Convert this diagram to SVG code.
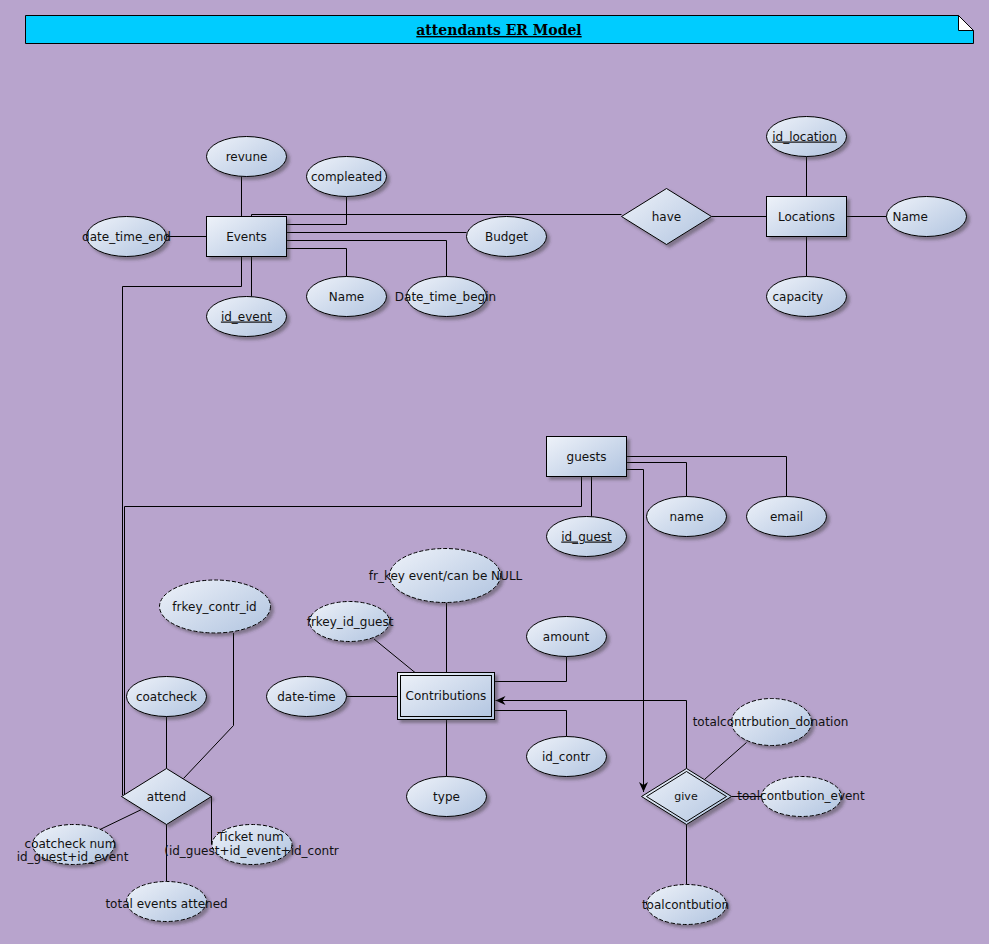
<svg xmlns="http://www.w3.org/2000/svg" width="989" height="944" viewBox="0 0 989 944">
  <defs>
    <linearGradient id="nodeFill" x1="0" y1="0" x2="1" y2="0.8">
      <stop offset="0" stop-color="#eef2f9"/>
      <stop offset="1" stop-color="#b6c8e2"/>
    </linearGradient>
    <filter id="shadow" x="-20%" y="-20%" width="150%" height="160%">
      <feDropShadow dx="3" dy="3" stdDeviation="1.5" flood-color="#3a3a3a" flood-opacity="0.45"/>
    </filter>
    <marker id="arrow" markerUnits="userSpaceOnUse" markerWidth="11" markerHeight="9" refX="10" refY="4.5" orient="auto">
      <path d="M0,0 L10,4.5 L0,9 L3,4.5 Z" fill="#000"/>
    </marker>
  </defs>
  <style>
    .shape { fill: url(#nodeFill); stroke: #000; stroke-width: 1; filter: url(#shadow); }
    .weak { stroke-dasharray: 4 2; }
    .plain { fill: none; stroke: #000; stroke-width: 1; }
    .edge { fill: none; stroke: #000; stroke-width: 1; }
    .lbl { font-family: "DejaVu Sans", "Liberation Sans", sans-serif; font-size: 12px; fill: #111; text-anchor: middle; }
    .left { text-anchor: start; }
    .key { text-decoration: underline; }
    .title { font-family: "DejaVu Serif", "Liberation Serif", serif; font-size: 14px; font-weight: bold; fill: #000; text-anchor: middle; text-decoration: underline; }
  </style>

  <!-- background -->
  <rect x="0" y="0" width="989" height="944" fill="#b8a4cd"/>

  <!-- title note with folded corner -->
  <g id="title">
    <polygon points="25.5,15.5 958.5,15.5 973.5,30.5 973.5,43.5 25.5,43.5" fill="#00ccff" stroke="#000" stroke-width="1"/>
    <polygon points="958.5,15.5 958.5,30.5 973.5,30.5" fill="#ffffff" stroke="#000" stroke-width="1"/>
    <text class="title" x="499" y="35">attendants ER Model</text>
  </g>

  <!-- connectors -->
  <g id="connectors">
    <path class="edge" d="M241.5,176.5 V216.5"/>
    <path class="edge" d="M251.5,216.5 V214.5 H621.5"/>
    <path class="edge" d="M346.5,196.5 V224.5 H286.5"/>
    <path class="edge" d="M166.5,236.5 H206.5"/>
    <path class="edge" d="M286.5,232.5 H466.5"/>
    <path class="edge" d="M286.5,240.5 H446.5 V276.5"/>
    <path class="edge" d="M286.5,248.5 H346.5 V276.5"/>
    <path class="edge" d="M251.5,256.5 V296.5"/>
    <path class="edge" d="M241.5,256.5 V286.5 H122.5 V795"/>
    <path class="edge" d="M711.5,216.5 H766.5"/>
    <path class="edge" d="M806.5,156.5 V196.5"/>
    <path class="edge" d="M846.5,216.5 H886.5"/>
    <path class="edge" d="M806.5,236.5 V276.5"/>
    <path class="edge" d="M581.5,476.5 V506.5 H124.5 V795"/>
    <path class="edge" d="M591.5,476.5 V516.5"/>
    <path class="edge" d="M626.5,462.5 H686.5 V496.5"/>
    <path class="edge" d="M626.5,456.5 H786.5 V496.5"/>
    <path class="edge" d="M626.5,469.5 H643.5 V792" marker-end="url(#arrow)"/>
    <path class="edge" d="M686.5,768.5 V700.5 H495.5" marker-end="url(#arrow)"/>
    <path class="edge" d="M446.5,602.5 V672.5"/>
    <path class="edge" d="M374,639 L415,672.5"/>
    <path class="edge" d="M566.5,656.5 V681.5 H494.5"/>
    <path class="edge" d="M346.5,696.5 H397.5"/>
    <path class="edge" d="M494.5,710.5 H566.5 V736.5"/>
    <path class="edge" d="M446.5,719.5 V776.5"/>
    <path class="edge" d="M233.5,633 V725.5 L183.5,778.5"/>
    <path class="edge" d="M166.5,716.5 V768.5"/>
    <path class="edge" d="M100,829.5 L141.5,809.5"/>
    <path class="edge" d="M211.5,796.5 V844.5"/>
    <path class="edge" d="M166.5,824.5 V881.5"/>
    <path class="edge" d="M746.5,742.5 L705,779"/>
    <path class="edge" d="M731.5,796.5 H761.5"/>
    <path class="edge" d="M686.5,824.5 V884.5"/>
  </g>

  <!-- Events entity and attributes -->
  <g id="events">
    <rect class="shape" x="206.5" y="216.5" width="80" height="40"/>
    <text class="lbl" x="246.5" y="240.5">Events</text>
  </g>
  <g id="revune">
    <ellipse class="shape" cx="246.5" cy="156.5" rx="40" ry="20"/>
    <text class="lbl" x="246.5" y="160.5">revune</text>
  </g>
  <g id="compleated">
    <ellipse class="shape" cx="346.5" cy="176.5" rx="40" ry="20"/>
    <text class="lbl" x="346.5" y="180.5">compleated</text>
  </g>
  <g id="date_time_end">
    <ellipse class="shape" cx="126.5" cy="236.5" rx="40" ry="20"/>
    <text class="lbl" x="126.5" y="240.5">date_time_end</text>
  </g>
  <g id="budget">
    <ellipse class="shape" cx="506.5" cy="236.5" rx="40" ry="20"/>
    <text class="lbl" x="506.5" y="240.5">Budget</text>
  </g>
  <g id="id_event">
    <ellipse class="shape" cx="246.5" cy="316.5" rx="40" ry="20"/>
    <text class="lbl key" x="246.5" y="320.5">id_event</text>
  </g>
  <g id="event_name">
    <ellipse class="shape" cx="346.5" cy="296.5" rx="40" ry="20"/>
    <text class="lbl" x="346.5" y="300.5">Name</text>
  </g>
  <g id="date_time_begin">
    <ellipse class="shape" cx="446.5" cy="296.5" rx="40" ry="20"/>
    <text class="lbl" x="445.5" y="300.5">Date_time_begin</text>
  </g>

  <!-- have relationship and Locations -->
  <g id="have">
    <polygon class="shape" points="621.5,216.5 666.5,188.5 711.5,216.5 666.5,244.5"/>
    <text class="lbl" x="666.5" y="220.5">have</text>
  </g>
  <g id="locations">
    <rect class="shape" x="766.5" y="196.5" width="80" height="40"/>
    <text class="lbl" x="806.5" y="220.5">Locations</text>
  </g>
  <g id="id_location">
    <ellipse class="shape" cx="806.5" cy="136.5" rx="40" ry="20"/>
    <text class="lbl key" x="804.5" y="140.5">id_location</text>
  </g>
  <g id="location_name">
    <ellipse class="shape" cx="926.5" cy="216.5" rx="40" ry="20"/>
    <text class="lbl left" x="892.5" y="220.5">Name</text>
  </g>
  <g id="capacity">
    <ellipse class="shape" cx="806.5" cy="296.5" rx="40" ry="20"/>
    <text class="lbl left" x="772.5" y="300.5">capacity</text>
  </g>

  <!-- guests entity -->
  <g id="guests">
    <rect class="shape" x="546.5" y="436.5" width="80" height="40"/>
    <text class="lbl" x="586.5" y="460.5">guests</text>
  </g>
  <g id="id_guest">
    <ellipse class="shape" cx="586.5" cy="536.5" rx="40" ry="20"/>
    <text class="lbl key" x="586.5" y="540.5">id_guest</text>
  </g>
  <g id="guest_name">
    <ellipse class="shape" cx="686.5" cy="516.5" rx="40" ry="20"/>
    <text class="lbl" x="686.5" y="520.5">name</text>
  </g>
  <g id="email">
    <ellipse class="shape" cx="786.5" cy="516.5" rx="40" ry="20"/>
    <text class="lbl" x="786.5" y="520.5">email</text>
  </g>

  <!-- Contributions weak entity -->
  <g id="contributions">
    <rect class="shape" x="397.5" y="672.5" width="97" height="47"/>
    <rect class="plain" x="400.5" y="675.5" width="91" height="41"/>
    <text class="lbl" x="446" y="700">Contributions</text>
  </g>
  <g id="fr_key_event">
    <ellipse class="shape weak" cx="445" cy="575.5" rx="55.5" ry="27"/>
    <text class="lbl" x="445.5" y="579.5">fr_key event/can be NULL</text>
  </g>
  <g id="frkey_id_guest">
    <ellipse class="shape weak" cx="349.5" cy="621.5" rx="40" ry="20"/>
    <text class="lbl" x="350" y="626">frkey_id_guest</text>
  </g>
  <g id="amount">
    <ellipse class="shape" cx="566.5" cy="636.5" rx="40" ry="20"/>
    <text class="lbl" x="566" y="640.5">amount</text>
  </g>
  <g id="date_time">
    <ellipse class="shape" cx="306.5" cy="696.5" rx="40" ry="20"/>
    <text class="lbl" x="306.5" y="700.5">date-time</text>
  </g>
  <g id="id_contr">
    <ellipse class="shape" cx="566.5" cy="756.5" rx="40" ry="20"/>
    <text class="lbl" x="566" y="760.5">id_contr</text>
  </g>
  <g id="type">
    <ellipse class="shape" cx="446.5" cy="796.5" rx="40" ry="20"/>
    <text class="lbl" x="446.5" y="800.5">type</text>
  </g>

  <!-- attend relationship -->
  <g id="attend">
    <polygon class="shape" points="121.5,796.5 166.5,768.5 211.5,796.5 166.5,824.5"/>
    <text class="lbl" x="166.5" y="800.5">attend</text>
  </g>
  <g id="frkey_contr_id">
    <ellipse class="shape weak" cx="215" cy="606.5" rx="55.5" ry="26.5"/>
    <text class="lbl" x="214.5" y="610.5">frkey_contr_id</text>
  </g>
  <g id="coatcheck">
    <ellipse class="shape" cx="166.5" cy="696.5" rx="40" ry="20"/>
    <text class="lbl" x="166.5" y="700.5">coatcheck</text>
  </g>
  <g id="coatcheck_num">
    <ellipse class="shape weak" cx="73.5" cy="844.5" rx="41" ry="20"/>
    <text class="lbl" x="70.5" y="847.5">coatcheck num</text>
    <text class="lbl" x="72.5" y="861">id_guest+id_event</text>
  </g>
  <g id="ticket_num">
    <ellipse class="shape weak" cx="252" cy="844.5" rx="40" ry="20"/>
    <text class="lbl" x="250.5" y="841">Ticket num</text>
    <text class="lbl" x="251.5" y="855">(id_guest+id_event+id_contr</text>
  </g>
  <g id="total_events_attened">
    <ellipse class="shape weak" cx="166.5" cy="901.5" rx="40" ry="20"/>
    <text class="lbl" x="166.5" y="908">total events attened</text>
  </g>

  <!-- give identifying relationship -->
  <g id="give">
    <polygon class="shape" points="641.5,796.5 686.5,768.5 731.5,796.5 686.5,824.5"/>
    <polygon class="plain" points="646.5,796.5 686.5,771.5 726.5,796.5 686.5,821.5"/>
    <text class="lbl" x="686" y="800" style="font-size:11px">give</text>
  </g>
  <g id="totalcontrbution_donation">
    <ellipse class="shape weak" cx="771.5" cy="722" rx="40" ry="23.5"/>
    <text class="lbl" x="770.5" y="725.5">totalcontrbution_donation</text>
  </g>
  <g id="toalcontbution_event">
    <ellipse class="shape weak" cx="801.5" cy="796.5" rx="40" ry="20"/>
    <text class="lbl" x="801" y="800">toalcontbution_event</text>
  </g>
  <g id="toalcontbution">
    <ellipse class="shape weak" cx="686.5" cy="904.5" rx="40" ry="20"/>
    <text class="lbl" x="685.5" y="908.5">toalcontbution</text>
  </g>
</svg>
